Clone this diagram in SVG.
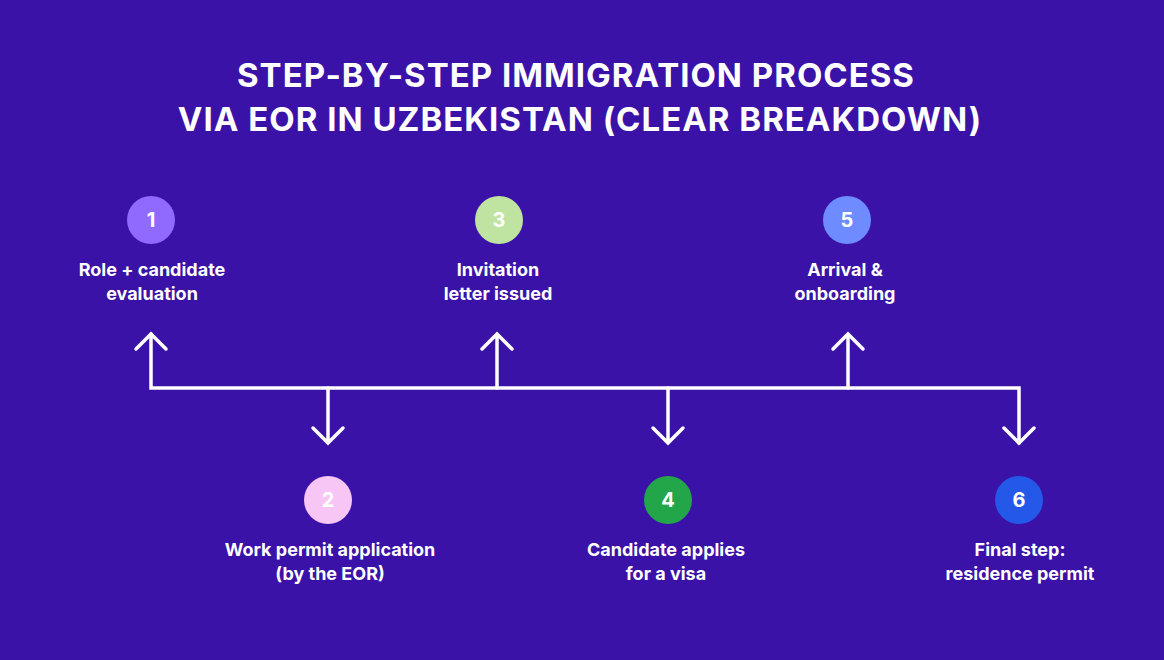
<svg xmlns="http://www.w3.org/2000/svg" width="1164" height="660" viewBox="0 0 1164 660">
<style>
.t{font-family:Inter,"Liberation Sans",sans-serif;font-weight:700;fill:#fff;text-anchor:middle}
.h{font-size:33px;letter-spacing:1px}
.l{font-size:18px}
.n{font-size:20px}
.c{fill:none;stroke:#fff;stroke-width:3.5;stroke-linecap:round;stroke-linejoin:miter}
</style>
<rect width="1164" height="660" fill="#3a12a8"/>
<text class="t h" x="576" y="87">STEP-BY-STEP IMMIGRATION PROCESS</text>
<text class="t h" x="580" y="131">VIA EOR IN UZBEKISTAN (CLEAR BREAKDOWN)</text>
<g id="connectors" class="c">
<path d="M151 334V388H1019V443"/>
<path d="M136 349L151 334L166 349"/>
<path d="M497 334V388M482 349L497 334L512 349"/>
<path d="M848 334V388M833 349L848 334L863 349"/>
<path d="M328 388V443M313 428L328 443L343 428"/>
<path d="M668 388V443M653 428L668 443L683 428"/>
<path d="M1004 428L1019 443L1034 428"/>
</g>
<g id="n1"><circle cx="151" cy="220" r="24" fill="#9069ff"/><text class="t n" x="151" y="227">1</text><text class="t l" x="152" y="276">Role + candidate</text><text class="t l" x="152" y="300">evaluation</text></g>
<g id="n3"><circle cx="499" cy="220" r="24" fill="#bfe3a0"/><text class="t n" x="499" y="227">3</text><text class="t l" x="498" y="276">Invitation</text><text class="t l" x="498" y="300">letter issued</text></g>
<g id="n5"><circle cx="847" cy="220" r="24" fill="#6e8bff"/><text class="t n" x="847" y="227">5</text><text class="t l" x="845" y="276">Arrival &amp;</text><text class="t l" x="845" y="300">onboarding</text></g>
<g id="n2"><circle cx="328" cy="500" r="24" fill="#f7c6f5"/><text class="t n" x="328" y="507">2</text><text class="t l" x="330" y="556">Work permit application</text><text class="t l" x="330" y="580">(by the EOR)</text></g>
<g id="n4"><circle cx="668" cy="500" r="24" fill="#23a54a"/><text class="t n" x="668" y="507">4</text><text class="t l" x="666" y="556">Candidate applies</text><text class="t l" x="666" y="580">for a visa</text></g>
<g id="n6"><circle cx="1019" cy="500" r="24" fill="#2458e8"/><text class="t n" x="1019" y="507">6</text><text class="t l" x="1020" y="556">Final step:</text><text class="t l" x="1020" y="580">residence permit</text></g>
</svg>
